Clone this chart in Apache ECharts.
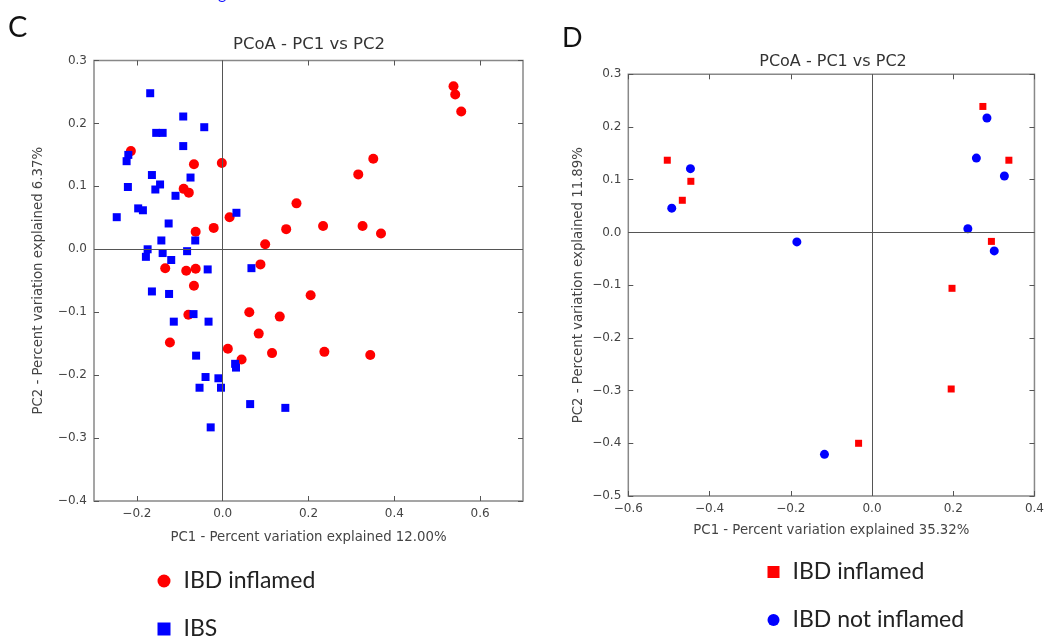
<!DOCTYPE html>
<html>
<head>
<meta charset="utf-8">
<script src="https://cdn.jsdelivr.net/npm/echarts@6/dist/echarts.min.js"></script>
<style>
html,body{margin:0;padding:0;background:#fff;}
#chart{width:1047px;height:639px;}
</style>
</head>
<body>
<div id="chart"></div>
<script>
// ---------- Panel C data (PC1, PC2) ----------
const cIBDInflamed = [
  [-0.214, 0.156], [-0.067, 0.135], [-0.002, 0.137], [-0.091, 0.096], [-0.079, 0.090],
  [0.016, 0.051], [-0.021, 0.034], [-0.063, 0.028], [0.172, 0.073], [0.148, 0.032],
  [0.234, 0.037], [0.326, 0.037], [0.369, 0.025], [0.099, 0.008], [0.088, -0.024],
  [0.316, 0.119], [0.351, 0.144], [0.538, 0.259], [0.542, 0.246], [0.556, 0.219],
  [-0.134, -0.030], [-0.085, -0.034], [-0.063, -0.031], [-0.067, -0.058], [-0.080, -0.104],
  [-0.123, -0.148], [0.062, -0.100], [0.084, -0.134], [0.133, -0.107], [0.205, -0.073],
  [0.012, -0.158], [0.044, -0.175], [0.115, -0.165], [0.237, -0.163], [0.344, -0.168]
];
const cIBS = [
  [-0.169, 0.248], [-0.092, 0.211], [-0.043, 0.194], [-0.155, 0.185], [-0.140, 0.185],
  [-0.092, 0.164], [-0.224, 0.140], [-0.220, 0.150], [-0.165, 0.118], [-0.146, 0.103],
  [-0.157, 0.095], [-0.075, 0.114], [-0.221, 0.099], [-0.110, 0.085], [-0.197, 0.065],
  [-0.186, 0.062], [-0.247, 0.051], [0.032, 0.058], [-0.126, 0.041], [-0.064, 0.014],
  [-0.143, 0.014], [-0.175, 0.000], [-0.140, -0.006], [-0.083, -0.003], [-0.179, -0.012],
  [-0.120, -0.017], [-0.035, -0.032], [0.067, -0.030], [-0.165, -0.067], [-0.125, -0.071],
  [-0.114, -0.115], [-0.068, -0.103], [-0.033, -0.115], [-0.062, -0.169], [-0.040, -0.203],
  [-0.010, -0.205], [-0.054, -0.220], [-0.004, -0.220], [0.029, -0.182], [0.031, -0.188],
  [0.064, -0.246], [0.146, -0.252], [-0.028, -0.283]
];
// ---------- Panel D data (PC1, PC2) ----------
const dIBDInflamed = [
  [-0.504, 0.137], [-0.446, 0.097], [-0.467, 0.061], [0.273, 0.239], [0.337, 0.137],
  [0.294, -0.017], [0.197, -0.106], [0.195, -0.297], [-0.033, -0.400]
];
const dIBDNotInflamed = [
  [-0.447, 0.121], [-0.493, 0.046], [-0.185, -0.018], [0.283, 0.217], [0.257, 0.141],
  [0.326, 0.107], [0.236, 0.007], [0.301, -0.035], [-0.117, -0.421]
];
// ---------- Tick values ----------
const cXTicks = [-0.2, 0.0, 0.2, 0.4, 0.6];
const cYTicks = [-0.4, -0.3, -0.2, -0.1, 0.0, 0.1, 0.2, 0.3];
const dXTicks = [-0.6, -0.4, -0.2, 0.0, 0.2, 0.4];
const dYTicks = [-0.5, -0.4, -0.3, -0.2, -0.1, 0.0, 0.1, 0.2, 0.3];
// ---------- Texts ----------
const titleText = 'PCoA - PC1 vs PC2';
const cXName = 'PC1 - Percent variation explained 12.00%';
const cYName = 'PC2 - Percent variation explained 6.37%';
const dXName = 'PC1 - Percent variation explained 35.32%';
const dYName = 'PC2 - Percent variation explained 11.89%';

const RED = '#ff0000', BLUE = '#0000ff';
const fmt = v => (v < -1e-9 ? '\u2212' : '') + Math.abs(v).toFixed(1);
const tickStyle = {color: '#555', width: 1};
const labelStyle = {color: '#444', fontSize: 12, fontFamily: 'DejaVu Sans'};
const nameStyle = {color: '#444', fontSize: 13.3, fontFamily: 'DejaVu Sans'};

function tick(ticks) {
  return {show: true, inside: true, length: 5, customValues: ticks, lineStyle: tickStyle};
}
function mainX(grid, min, max, ticks, name, gap) {
  return {type: 'value', gridIndex: grid, position: 'bottom', min, max,
    splitLine: {show: false}, axisLine: {show: false, onZero: false},
    axisTick: tick(ticks),
    axisLabel: Object.assign({show: true, customValues: ticks, formatter: fmt, margin: 7}, labelStyle),
    name, nameLocation: 'middle', nameGap: gap, nameTextStyle: nameStyle};
}
function mirrorX(grid, min, max, ticks) {
  return {type: 'value', gridIndex: grid, position: 'top', min, max,
    splitLine: {show: false}, axisLine: {show: false, onZero: false},
    axisTick: tick(ticks), axisLabel: {show: false}};
}
function mainY(grid, min, max, ticks, name, gap) {
  return {type: 'value', gridIndex: grid, position: 'left', min, max,
    splitLine: {show: false}, axisLine: {show: false, onZero: false},
    axisTick: tick(ticks),
    axisLabel: Object.assign({show: true, customValues: ticks, formatter: fmt, margin: 7}, labelStyle),
    name, nameLocation: 'middle', nameGap: gap, nameRotate: 90, nameTextStyle: nameStyle};
}
function mirrorY(grid, min, max, ticks) {
  return {type: 'value', gridIndex: grid, position: 'right', min, max,
    splitLine: {show: false}, axisLine: {show: false, onZero: false},
    axisTick: tick(ticks), axisLabel: {show: false}};
}
function zeroLines(xi, yi) {
  return {type: 'scatter', xAxisIndex: xi, yAxisIndex: yi, data: [], z: 1, silent: true,
    markLine: {silent: true, symbol: ['none', 'none'], label: {show: false},
      lineStyle: {type: 'solid', color: '#555', width: 1}, emphasis: {disabled: true},
      data: [{xAxis: 0}, {yAxis: 0}]}};
}
function legendItem(name, left, top, size) {
  return {left, top, padding: 0, itemWidth: size, itemHeight: size, selectedMode: false,
    data: [name], formatter: n => n.slice(2),
    textStyle: {fontSize: 23, fontFamily: 'Lato', color: '#222', lineHeight: 24, padding: [0, 0, 0, 8]}};
}

const chart = echarts.init(document.getElementById('chart'), null, {renderer: 'canvas'});
chart.setOption({
  animation: false,
  backgroundColor: '#fff',
  title: [
    {text: titleText, left: 309, top: 36, padding: 0, textAlign: 'center',
      textStyle: {fontSize: 16.5, fontWeight: 'normal', color: '#333', fontFamily: 'DejaVu Sans'}},
    {text: titleText, left: 833, top: 54, padding: 0, textAlign: 'center',
      textStyle: {fontSize: 16, fontWeight: 'normal', color: '#333', fontFamily: 'DejaVu Sans'}}
  ],
  grid: [
    {left: 94, top: 60.5, width: 429, height: 440.5, show: true, borderColor: '#888', borderWidth: 1.5, backgroundColor: 'transparent'},
    {left: 628.3, top: 74.3, width: 409, height: 421.7, show: true, borderColor: '#888', borderWidth: 1.5, backgroundColor: 'transparent'}
  ],
  xAxis: [
    mainX(0, -0.3, 0.7, cXTicks, cXName, 30),
    mirrorX(0, -0.3, 0.7, cXTicks),
    mainX(1, -0.6, 0.4, dXTicks, dXName, 28),
    mirrorX(1, -0.6, 0.4, dXTicks)
  ],
  yAxis: [
    mainY(0, -0.4, 0.3, cYTicks, cYName, 49),
    mirrorY(0, -0.4, 0.3, cYTicks),
    mainY(1, -0.5, 0.3, dYTicks, dYName, 43),
    mirrorY(1, -0.5, 0.3, dYTicks)
  ],
  legend: [
    legendItem('C-IBD inflamed', 157.5, 569, 13),
    legendItem('C-IBS', 157.5, 617, 13),
    legendItem('D-IBD inflamed', 767.5, 560, 12),
    legendItem('D-IBD not inflamed', 767.5, 608, 12)
  ],
  graphic: [
    {type: 'text', left: 8, top: 13, style: {text: 'C', fontSize: 29, fontFamily: 'Lato', fill: '#111'}},
    {type: 'text', left: 562, top: 25, style: {text: 'D', fontSize: 27, fontFamily: 'Lato', fill: '#111'}},
    {type: 'text', x: 218, y: -14, style: {text: 'g', fontSize: 16, fontFamily: 'Lato', fill: '#1a1aff'}}
  ],
  series: [
    zeroLines(0, 0),
    {name: 'C-IBD inflamed', type: 'scatter', xAxisIndex: 0, yAxisIndex: 0, z: 2,
      symbol: 'circle', symbolSize: 10, itemStyle: {color: RED, opacity: 1}, data: cIBDInflamed},
    {name: 'C-IBS', type: 'scatter', xAxisIndex: 0, yAxisIndex: 0, z: 2,
      symbol: 'rect', symbolSize: 8, itemStyle: {color: BLUE, opacity: 1}, data: cIBS},
    zeroLines(2, 2),
    {name: 'D-IBD inflamed', type: 'scatter', xAxisIndex: 2, yAxisIndex: 2, z: 2,
      symbol: 'rect', symbolSize: 7, itemStyle: {color: RED, opacity: 1}, data: dIBDInflamed},
    {name: 'D-IBD not inflamed', type: 'scatter', xAxisIndex: 2, yAxisIndex: 2, z: 2,
      symbol: 'circle', symbolSize: 9, itemStyle: {color: BLUE, opacity: 1}, data: dIBDNotInflamed}
  ]
});
</script>
</body>
</html>
